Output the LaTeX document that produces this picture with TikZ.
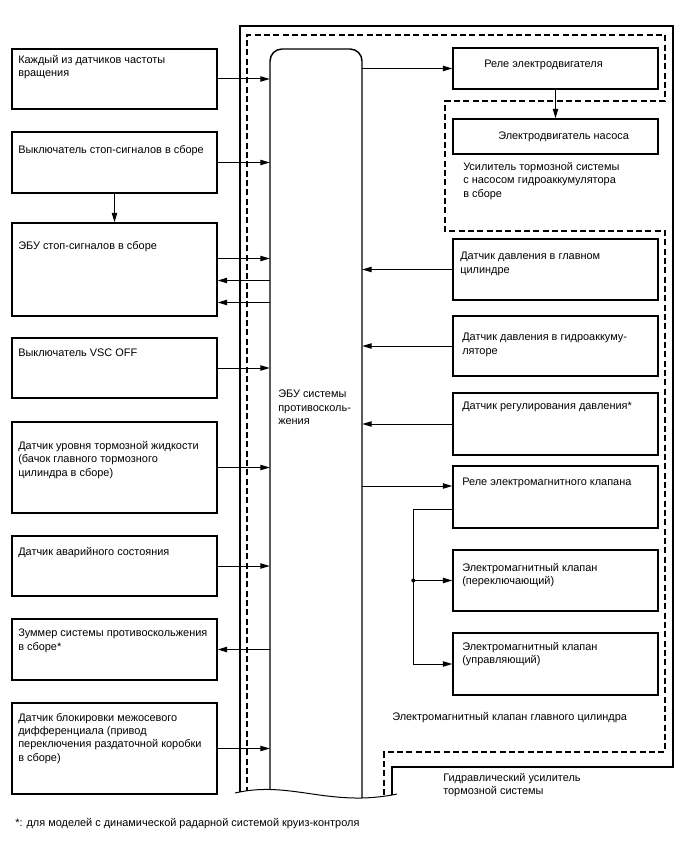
\documentclass[tikz,border=0pt]{standalone}
\usepackage{fontspec}
\setmainfont{Liberation Sans}
\usetikzlibrary{arrows.meta,fit,calc}
\begin{document}
\begin{tikzpicture}[x=0.75pt,y=-0.75pt,
  box/.style={draw, line width=1.1pt, inner sep=0pt},
  lbl/.style={anchor=north west, inner sep=0pt, align=left, font=\fontsize{8.2}{10}\selectfont},
  conn/.style={line width=0.75pt},
  arr/.style={conn, -{Triangle[length=7pt,width=4pt]}},
  frame/.style={line width=1.1pt},
  dframe/.style={line width=1.1pt, dash pattern=on 4.5pt off 2.5pt}]
\useasboundingbox (0,0) rectangle (688,852);

% frames and ECU, cut by the wavy break
\begin{scope}
\clip (230,0) -- (230,793) -- (235,793) .. controls (290,780) and (330,808) .. (397,794) -- (700,794) -- (700,0) -- cycle;
\draw[frame] (240,830) -- (240,26) -- (673,26) -- (673,767) -- (392,767) -- (392,830);
\draw[dframe] (247,830) -- (247,35) -- (665,35) -- (665,101) -- (445,101) -- (445,231) -- (665,231) -- (665,752) -- (384,752) -- (384,830);
\draw[frame, rounded corners=9pt] (270,840) -- (270,49) -- (362,49) -- (362,840);
\end{scope}
\draw[conn] (235,793) .. controls (290,780) and (330,808) .. (397,794);
\node[inner sep=0pt, fit={(270,49) (362,798)}] (ecu) {};
\node[lbl] (tecu) at (278,390) {ЭБУ системы\\противосколь-\\жения};

% left boxes
\node[box, fit={(12,49) (217,109)}] (b1) {};
\node[box, fit={(12,132) (217,193)}] (b2) {};
\node[box, fit={(12,223) (217,316)}] (b3) {};
\node[box, fit={(12,338) (217,398)}] (b4) {};
\node[box, fit={(12,422) (217,513)}] (b5) {};
\node[box, fit={(12,536) (217,596)}] (b6) {};
\node[box, fit={(12,619) (217,680)}] (b7) {};
\node[box, fit={(12,703) (217,794)}] (b8) {};
\node[lbl] (t1) at (18,55) {Каждый из датчиков частоты\\вращения};
\node[lbl] (t2) at (18,145) {Выключатель стоп-сигналов в сборе};
\node[lbl] (t3) at (18,241) {ЭБУ стоп-сигналов в сборе};
\node[lbl] (t4) at (18,349) {Выключатель VSC OFF};
\node[lbl] (t5) at (18,441) {Датчик уровня тормозной жидкости\\(бачок главного тормозного\\цилиндра в сборе)};
\node[lbl] (t6) at (18,547) {Датчик аварийного состояния};
\node[lbl] (t7) at (18,629) {Зуммер системы противоскольжения\\в сборе*};
\node[lbl] (t8) at (18,713) {Датчик блокировки межосевого\\дифференциала (привод\\переключения раздаточной коробки\\в сборе)};

% right boxes
\node[box, fit={(453,48) (658,89)}] (r1) {};
\node[box, fit={(453,119) (658,154)}] (r2) {};
\node[box, fit={(453,239) (658,300)}] (r3) {};
\node[box, fit={(453,316) (658,376)}] (r4) {};
\node[box, fit={(453,393) (658,455)}] (r5) {};
\node[box, fit={(453,466) (658,528)}] (r6) {};
\node[box, fit={(453,550) (658,611)}] (r7) {};
\node[box, fit={(453,633) (658,695)}] (r8) {};
\node[lbl] (s1) at (484,60) {Реле электродвигателя};
\node[lbl] (s2) at (498,132) {Электродвигатель насоса};
\node[lbl] (s3) at (460,252) {Датчик давления в главном\\цилиндре};
\node[lbl] (s4) at (462,333) {Датчик давления в гидроаккуму-\\ляторе};
\node[lbl] (s5) at (462,402) {Датчик регулирования давления*};
\node[lbl] (s6) at (462,478) {Реле электромагнитного клапана};
\node[lbl] (s7) at (462,563) {Электромагнитный клапан\\(переключающий)};
\node[lbl] (s8) at (462,642) {Электромагнитный клапан\\(управляющий)};
\node[lbl] (lpump) at (463,162) {Усилитель тормозной системы\\с насосом гидроаккумулятора\\в сборе};
\node[lbl] (lsol) at (392,712) {Электромагнитный клапан главного цилиндра};
\node[lbl] (lhyd) at (443,773) {Гидравлический усилитель\\тормозной системы};
\node[lbl] (note) at (15,818) {*: для моделей с динамической радарной системой круиз-контроля};

% connectors, left side
\draw[arr] (b1.east) -- (b1.east -| ecu.west);
\draw[arr] (b2.east) -- (b2.east -| ecu.west);
\draw[arr] (b2.south) -- (b3.north);
\draw[arr] ($(b3.east)+(0,-11)$) -- ($(b3.east -| ecu.west)+(0,-11)$);
\draw[arr] ($(b3.east -| ecu.west)+(0,11)$) -- ($(b3.east)+(0,11)$);
\draw[arr] ($(b3.east -| ecu.west)+(0,33)$) -- ($(b3.east)+(0,33)$);
\draw[arr] (b4.east) -- (b4.east -| ecu.west);
\draw[arr] (b5.east) -- (b5.east -| ecu.west);
\draw[arr] (b6.east) -- (b6.east -| ecu.west);
\draw[arr] (b7.east -| ecu.west) -- (b7.east);
\draw[arr] (b8.east) -- (b8.east -| ecu.west);

% connectors, right side
\draw[arr] (r1.west -| ecu.east) -- (r1.west);
\draw[arr] (r1.south) -- (r2.north);
\draw[arr] (r3.west) -- (r3.west -| ecu.east);
\draw[arr] (r4.west) -- (r4.west -| ecu.east);
\draw[arr] (r5.west) -- (r5.west -| ecu.east);
\draw[arr] ($(r6.west -| ecu.east)+(0,-11)$) -- ($(r6.west)+(0,-11)$);
\coordinate (tap) at ($(r6.west)+(0,12)$);
\coordinate (bus) at ($(tap)+(-39,0)$);
\draw[arr] (tap) -- (bus) |- (r8.west);
\draw[arr] (bus |- r7.west) -- (r7.west);
\fill (bus |- r7.west) circle (2);
\end{tikzpicture}
\end{document}
